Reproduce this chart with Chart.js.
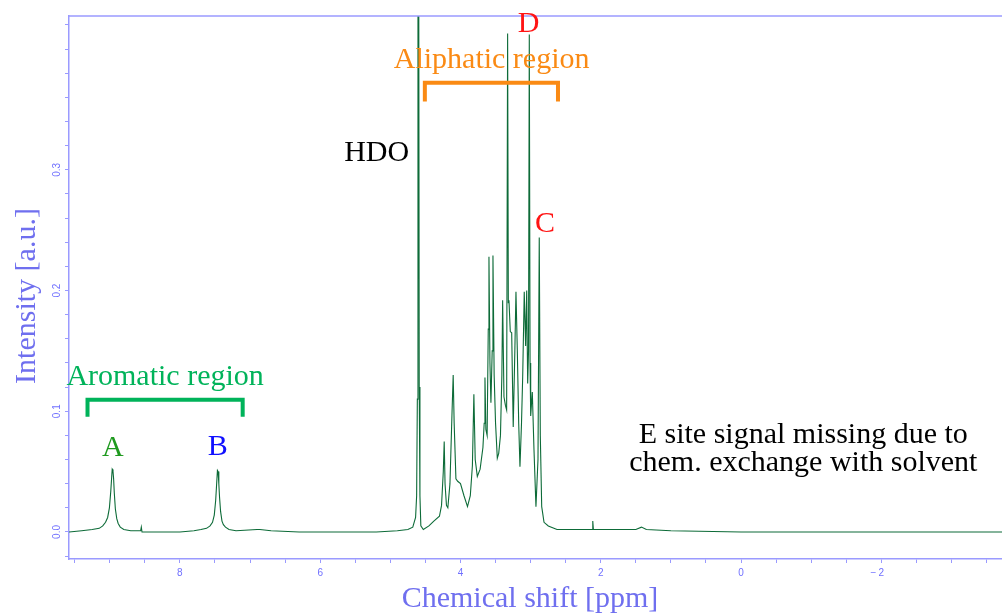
<!DOCTYPE html>
<html>
<head>
<meta charset="utf-8">
<script src="https://cdn.jsdelivr.net/npm/chart.js@4"></script>
<style>
  html, body { margin: 0; padding: 0; background: #fff; }
  #wrap { width: 1002px; height: 613px; }
</style>
</head>
<body>
<div id="wrap"><canvas id="nmr" width="1002" height="613"></canvas></div>
<script>
// Chemical shift (ppm) and intensity
var shiftPpm = [
  9.58, 9.40, 9.25, 9.15, 9.10, 9.06, 9.03, 9.005, 8.985, 8.972, 8.965, 8.955, 8.945, 8.935, 8.92,
  8.90, 8.88, 8.85, 8.80, 8.70,
  8.56, 8.55, 8.54, 8.30, 8.00, 7.80, 7.70, 7.62, 7.57, 7.535, 7.51, 7.49, 7.475, 7.465, 7.455,
  7.445, 7.435, 7.42, 7.40, 7.38, 7.35, 7.30,
  7.20, 6.90, 6.86, 6.70, 6.30, 5.80, 5.20, 4.90, 4.75, 4.68, 4.64, 4.625, 4.615,
  4.606, 4.598, 4.588, 4.578, 4.565, 4.53, 4.45, 4.38, 4.30, 4.27, 4.245, 4.232, 4.22, 4.20,
  4.18, 4.15, 4.12, 4.104, 4.09, 4.065, 4.04, 4.00, 3.95, 3.90, 3.86, 3.83, 3.809, 3.79,
  3.76, 3.72, 3.68, 3.662, 3.651, 3.638, 3.62, 3.604, 3.594, 3.58, 3.566, 3.548, 3.537, 3.52,
  3.50, 3.475, 3.455, 3.43, 3.41, 3.399, 3.38, 3.36, 3.342, 3.328, 3.318, 3.309, 3.29, 3.27,
  3.248, 3.225, 3.209, 3.19, 3.17, 3.152, 3.13, 3.113, 3.091, 3.071, 3.056, 3.042, 3.030, 3.019,
  3.008, 2.999, 2.976, 2.952, 2.924, 2.895, 2.877, 2.862, 2.842, 2.809, 2.748, 2.624, 2.40, 2.12,
  2.114, 2.105, 1.80, 1.50, 1.42, 1.35, 1.00, 0.00, -1.00, -2.00, -3.00, -3.72
];
var intensity = [
  0.000, 0.001, 0.002, 0.003, 0.005, 0.008, 0.012, 0.020, 0.034, 0.046, 0.052, 0.051, 0.044, 0.032, 0.019,
  0.011, 0.007, 0.004, 0.002, 0.001,
  0.001, 0.004, 0.000, 0.000, 0.000, 0.001, 0.002, 0.003, 0.005, 0.008, 0.014, 0.026, 0.041, 0.051, 0.050,
  0.040, 0.029, 0.017, 0.009, 0.006, 0.004, 0.002,
  0.001, 0.002, 0.002, 0.001, 0.000, 0.000, 0.000, 0.001, 0.002, 0.004, 0.012, 0.030, 0.110,
  0.600, 0.600, 0.120, 0.030, 0.005, 0.002, 0.005, 0.009, 0.013, 0.022, 0.050, 0.075, 0.040, 0.022,
  0.020, 0.040, 0.100, 0.130, 0.090, 0.044, 0.042, 0.040, 0.030, 0.021, 0.030, 0.055, 0.114, 0.060,
  0.046, 0.052, 0.070, 0.090, 0.128, 0.085, 0.080, 0.168, 0.228, 0.140, 0.107, 0.150, 0.229, 0.130,
  0.090, 0.061, 0.065, 0.080, 0.130, 0.192, 0.112, 0.105, 0.101, 0.413, 0.190, 0.192, 0.166, 0.165,
  0.087, 0.150, 0.199, 0.151, 0.090, 0.054, 0.090, 0.129, 0.199, 0.154, 0.200, 0.123, 0.150, 0.412,
  0.140, 0.096, 0.116, 0.068, 0.021, 0.060, 0.244, 0.080, 0.021, 0.008, 0.005, 0.002, 0.002, 0.002,
  0.009, 0.002, 0.002, 0.002, 0.004, 0.002, 0.001, 0.000, 0.000, 0.000, 0.000, 0.000
];

// axis ticks with labels
var xTickLabels = [8, 6, 4, 2, 0, -2];
var yTickLabels = [0.0, 0.1, 0.2, 0.3];

// annotations
var labelText  = ['Aromatic region', 'A', 'B', 'HDO', 'Aliphatic region', 'D', 'C',
                  'E site signal missing due to', 'chem. exchange with solvent'];
var labelPpm   = [8.211, 8.955, 7.462, 4.732, 3.556, 3.028, 2.795, -0.887, -0.887];
var labelValue = [0.1219, 0.0632, 0.064, 0.3076, 0.3841, 0.4139, 0.2488, 0.0739, 0.0508];
var labelColor = ['#00b35a', '#1f9a1f', '#1010ff', '#000000', '#fa8a14', '#ff1414', '#ff1414', '#000000', '#000000'];
var labelAlign = ['center', 'center', 'center', 'right', 'center', 'center', 'center', 'center', 'center'];

// region brackets: from ppm, to ppm, top, leg bottom
var bracketFrom  = [9.317, 4.508];
var bracketTo    = [7.105, 2.610];
var bracketTop   = [0.1095, 0.3722];
var bracketBot   = [0.0955, 0.3565];
var bracketColor = ['#00b35a', '#fa8a14'];

var axisColor = '#9a9aff';
var tickTextColor = '#7070ff';
var titleColor = '#6f6fef';
var serif = '"Liberation Serif", "DejaVu Serif", serif';

var points = shiftPpm.map(function(p, i) { return { x: p, y: intensity[i] }; });

// draws labels, brackets, tick labels and axis titles
var annotate = {
  id: 'annotate',
  afterDraw: function(chart) {
    var ctx = chart.ctx;
    var xs = chart.scales.x, ys = chart.scales.y;
    var area = chart.chartArea;
    ctx.save();

    // top frame line
    ctx.strokeStyle = axisColor;
    ctx.lineWidth = 1.5;
    ctx.beginPath();
    ctx.moveTo(area.left, area.top);
    ctx.lineTo(area.right, area.top);
    ctx.stroke();

    // brackets
    ctx.lineWidth = 4;
    ctx.lineCap = 'butt';
    ctx.lineJoin = 'miter';
    bracketFrom.forEach(function(f, i) {
      var x1 = xs.getPixelForValue(f), x2 = xs.getPixelForValue(bracketTo[i]);
      var yt = ys.getPixelForValue(bracketTop[i]), yb = ys.getPixelForValue(bracketBot[i]);
      ctx.strokeStyle = bracketColor[i];
      ctx.beginPath();
      ctx.moveTo(x1, yb);
      ctx.lineTo(x1, yt);
      ctx.lineTo(x2, yt);
      ctx.lineTo(x2, yb);
      ctx.stroke();
    });

    // text labels
    ctx.font = '30px ' + serif;
    ctx.textBaseline = 'alphabetic';
    labelText.forEach(function(t, i) {
      ctx.fillStyle = labelColor[i];
      ctx.textAlign = labelAlign[i];
      ctx.fillText(t, xs.getPixelForValue(labelPpm[i]), ys.getPixelForValue(labelValue[i]));
    });

    // x tick labels
    ctx.font = '10px "Liberation Sans", sans-serif';
    ctx.fillStyle = tickTextColor;
    ctx.textAlign = 'center';
    ctx.textBaseline = 'middle';
    xTickLabels.forEach(function(v) {
      var px = xs.getPixelForValue(v);
      ctx.fillText(String(Math.abs(v)), px, area.bottom + 14);
      if (v < 0) ctx.fillText('\u2212', px - 8, area.bottom + 14);
    });

    // y tick labels, rotated
    yTickLabels.forEach(function(v) {
      var py = ys.getPixelForValue(v);
      ctx.save();
      ctx.translate(area.left - 12, py);
      ctx.rotate(-Math.PI / 2);
      ctx.fillText(v.toFixed(1), 0, 0);
      ctx.restore();
    });

    // axis titles
    ctx.font = '30px ' + serif;
    ctx.fillStyle = titleColor;
    ctx.textBaseline = 'alphabetic';
    ctx.textAlign = 'center';
    ctx.fillText('Chemical shift [ppm]', 530, 607);
    ctx.save();
    ctx.translate(35, 296);
    ctx.rotate(-Math.PI / 2);
    ctx.fillText('Intensity [a.u.]', 0, 0);
    ctx.restore();

    ctx.restore();
  }
};

new Chart(document.getElementById('nmr'), {
  type: 'line',
  data: {
    datasets: [{
      data: points,
      borderColor: '#0d6b38',
      borderWidth: 1.1,
      pointRadius: 0,
      tension: 0,
      fill: false
    }]
  },
  options: {
    responsive: false,
    animation: false,
    layout: { padding: { top: 16, right: 0, left: 0, bottom: 0 } },
    plugins: {
      legend: { display: false },
      tooltip: { enabled: false }
    },
    scales: {
      x: {
        type: 'linear',
        reverse: true,
        min: -3.72,
        max: 9.581,
        afterFit: function(scale) { scale.height = 54; },
        ticks: { display: false, stepSize: 0.5, includeBounds: false },
        grid: { drawOnChartArea: false, drawTicks: true, tickLength: 4, color: axisColor, lineWidth: 1 },
        border: { display: true, color: axisColor, width: 1.5 }
      },
      y: {
        min: -0.0224,
        max: 0.4274,
        afterFit: function(scale) { scale.width = 69; },
        ticks: { display: false, stepSize: 0.02, includeBounds: false },
        grid: { drawOnChartArea: false, drawTicks: true, tickLength: 4, color: axisColor, lineWidth: 1 },
        border: { display: true, color: axisColor, width: 1.5 }
      }
    }
  },
  plugins: [annotate]
});
</script>
</body>
</html>
